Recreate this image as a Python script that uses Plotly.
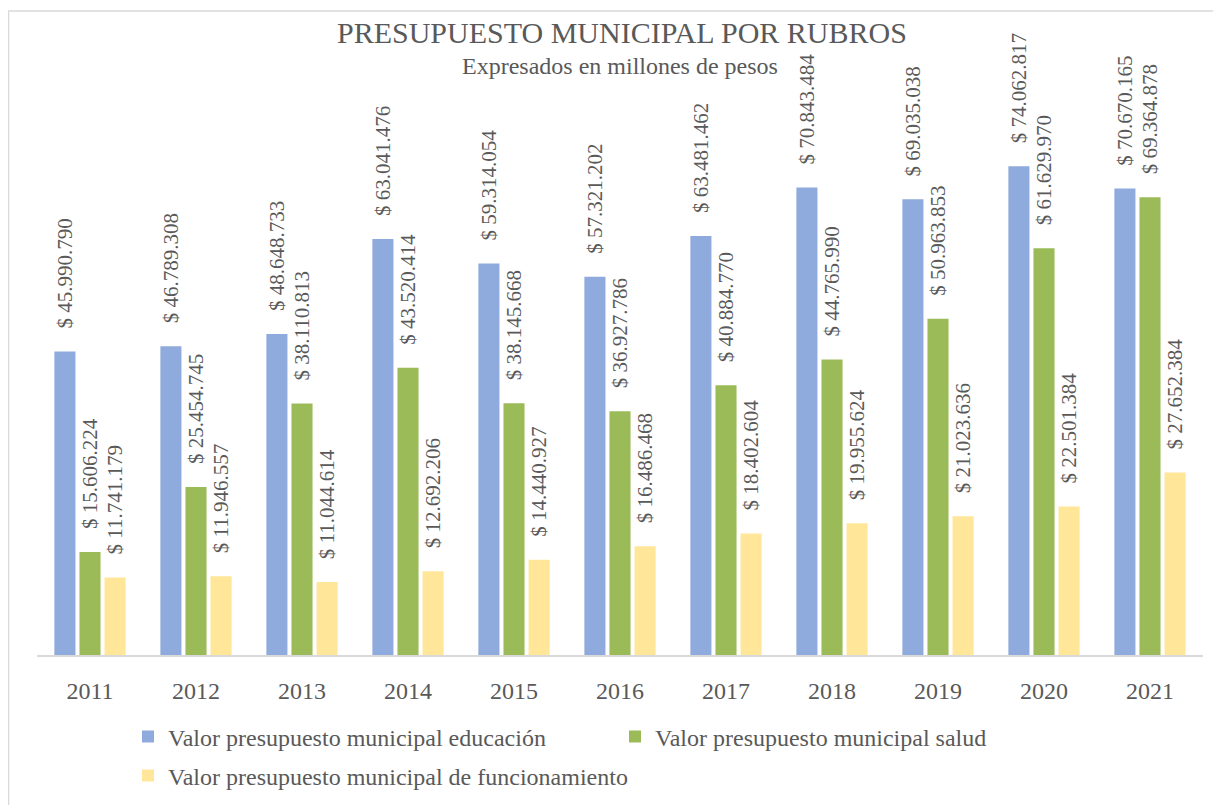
import plotly.graph_objects as go

years = ['2011', '2012', '2013', '2014', '2015', '2016', '2017', '2018', '2019', '2020', '2021']
educacion = [45990790, 46789308, 48648733, 63041476, 59314054, 57321202,
             63481462, 70843484, 69035038, 74062817, 70670165]
salud = [15606224, 25454745, 38110813, 43520414, 38145668, 36927786,
         40884770, 44765990, 50963853, 61629970, 69364878]
funcionamiento = [11741179, 11946557, 11044614, 12692206, 14440927, 16486468,
                  18402604, 19955624, 21023636, 22501384, 27652384]

series = [
    ('Valor presupuesto municipal educación', educacion, '#8faadc', 'legend'),
    ('Valor presupuesto municipal salud', salud, '#9bbb59', 'legend'),
    ('Valor presupuesto municipal de funcionamiento', funcionamiento, '#ffe699', 'legend2'),
]

font = 'Liberation Serif'
txt = '#595959'
lab_font = dict(family=font, size=21, color=txt)

# plot area in figure pixels (page is drawn 8px in from the corner)
L, R, T, B = 29, 1195, 119, 647
H = B - T
W = R - L

fig = go.Figure()
for name, vals, col, leg in series:
    fig.add_trace(go.Bar(
        x=years, y=vals, name=name, marker_color=col, marker_line_width=0,
        # leading spaces keep the label off the bar top like in Excel
        texttemplate='\u2002\u00a0\u2009$ %{y:,.0f}', textposition='outside', textangle=-90,
        textfont=lab_font, outsidetextfont=lab_font,
        constraintext='none', cliponaxis=False, legend=leg,
    ))

leg_font = dict(family=font, size=24, color=txt)
leg_x = (120 - L) / W

fig.update_layout(
    width=1221, height=805,
    margin=dict(l=L, r=1221 - R, t=T, b=805 - B),
    paper_bgcolor='white', plot_bgcolor='white',
    separators=',.',
    barmode='group', bargap=0.29, bargroupgap=0.16,
    font=dict(family=font, color=txt),
    showlegend=True,
    legend=dict(orientation='h', x=leg_x, y=(B - 729) / H, xanchor='left', yanchor='middle',
                entrywidth=442, entrywidthmode='pixels', bgcolor='rgba(0,0,0,0)', font=leg_font),
    legend2=dict(orientation='h', x=leg_x, y=(B - 768) / H, xanchor='left', yanchor='middle',
                 bgcolor='rgba(0,0,0,0)', font=leg_font),
)
fig.update_xaxes(showline=True, linecolor='#d9d9d9', linewidth=2, ticks='',
                 tickfont=dict(family=font, size=24, color=txt), ticklabelstandoff=13)
fig.update_yaxes(range=[0, 80000000], visible=False)

fig.add_annotation(text='PRESUPUESTO MUNICIPAL POR RUBROS', xref='paper', yref='paper',
                   x=(614 - L) / W, y=(B - 24) / H, xanchor='center', yanchor='middle', showarrow=False,
                   font=dict(family=font, size=30, color=txt))
fig.add_annotation(text='Expresados en millones de pesos', xref='paper', yref='paper',
                   x=(612 - L) / W, y=(B - 58) / H, xanchor='center', yanchor='middle', showarrow=False,
                   font=dict(family=font, size=24, color=txt))

# chart border
fig.add_shape(type='rect', xref='paper', yref='paper', x0=(0.5 - L) / W, x1=1.05,
              y0=-0.4, y1=(B - 3) / H, line=dict(color='#d9d9d9', width=1.5),
              fillcolor='rgba(0,0,0,0)', layer='below')

fig.write_html("out.html")
